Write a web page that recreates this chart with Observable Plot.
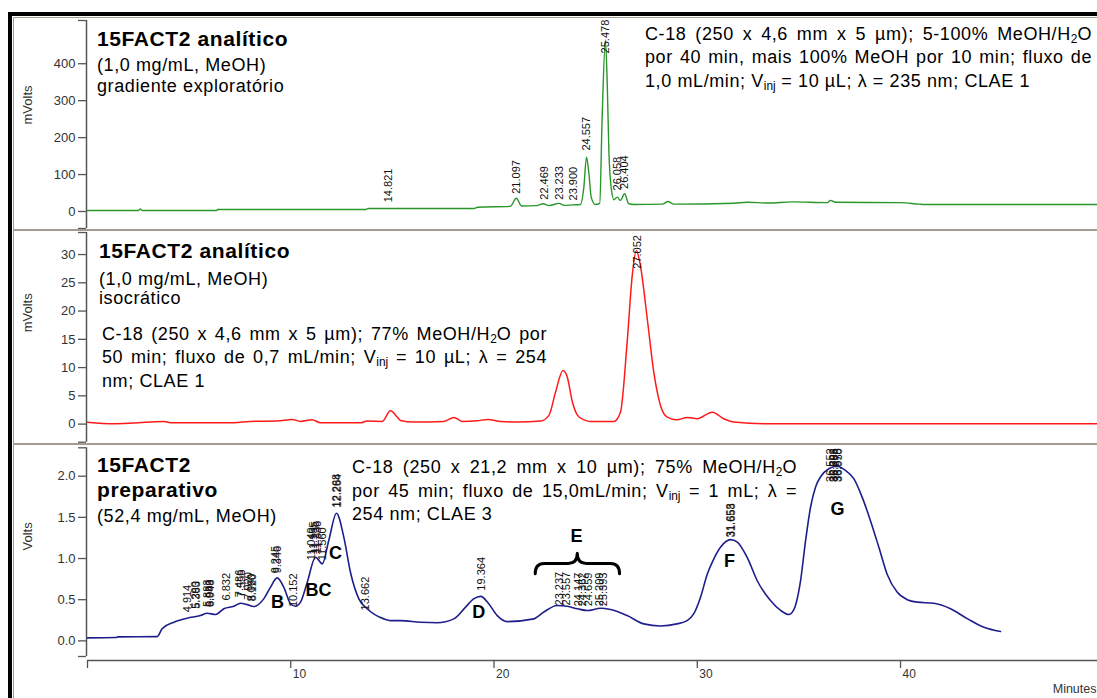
<!DOCTYPE html>
<html><head><meta charset="utf-8">
<script src="https://cdn.jsdelivr.net/npm/d3@7"></script>
<script src="https://cdn.jsdelivr.net/npm/@observablehq/plot@0.6"></script>
<style>
html,body{margin:0;padding:0;background:#fff;}
#page{position:relative;width:1097px;height:698px;overflow:hidden;background:#fff;font-family:"Liberation Sans",Arial,Helvetica,sans-serif;color:#000;}
.panel{position:absolute;left:0;}
.t{position:absolute;white-space:nowrap;line-height:1;letter-spacing:0.6px;}
.b{font-weight:bold;font-size:21px;}
.n{font-size:18px;}
.j{position:absolute;font-size:18px;line-height:1;text-align:justify;text-align-last:justify;letter-spacing:0.6px;}
.l{position:absolute;font-size:18px;line-height:1;white-space:nowrap;letter-spacing:0.6px;}
sub{font-size:0.66em;vertical-align:-0.28em;line-height:0;letter-spacing:0;}
.bar{position:absolute;z-index:5;}
</style></head>
<body>
<div id="page">
  <div class="bar" style="left:8px;top:12px;width:4px;height:686px;background:#000"></div>
  <div class="bar" style="left:8px;top:12px;width:1089px;height:4px;background:#000"></div>
  <div class="bar" style="left:13px;top:17px;width:1px;height:681px;background:#a39d8f"></div>
  <div class="bar" style="left:13px;top:17px;width:1084px;height:1px;background:#a39d8f"></div>
  <div class="bar" style="left:13px;top:229px;width:1084px;height:2px;background:#a39d8f"></div>
  <div class="bar" style="left:13px;top:443px;width:1084px;height:2px;background:#a39d8f"></div>

  <div id="p1" class="panel" style="top:17px"></div>
  <div id="p2" class="panel" style="top:230px"></div>
  <div id="p3" class="panel" style="top:445px"></div>

  <!-- panel 1 texts -->
  <div class="t b" style="left:97px;top:28.2px">15FACT2 analítico</div>
  <div class="t n" style="left:97px;top:56.3px">(1,0 mg/mL, MeOH)</div>
  <div class="t n" style="left:97px;top:76.6px">gradiente exploratório</div>
  <div class="j" style="left:645px;top:24.8px;width:447px">C-18 (250 x 4,6 mm x 5 µm); 5-100% MeOH/H<sub>2</sub>O</div>
  <div class="j" style="left:645px;top:48.1px;width:447px">por 40 min, mais 100% MeOH por 10 min; fluxo de</div>
  <div class="l" style="left:645px;top:71.5px">1,0 mL/min; V<sub>inj</sub> = 10 µL; λ = 235 nm; CLAE 1</div>

  <!-- panel 2 texts -->
  <div class="t b" style="left:99px;top:239.5px">15FACT2 analítico</div>
  <div class="t n" style="left:99px;top:269.8px">(1,0 mg/mL, MeOH)</div>
  <div class="t n" style="left:99px;top:289.0px">isocrático</div>
  <div class="j" style="left:102px;top:324.8px;width:445px">C-18 (250 x 4,6 mm x 5 µm); 77% MeOH/H<sub>2</sub>O por</div>
  <div class="j" style="left:102px;top:348.1px;width:445px">50 min; fluxo de 0,7 mL/min; V<sub>inj</sub> = 10 µL; λ = 254</div>
  <div class="l" style="left:102px;top:371.5px">nm; CLAE 1</div>

  <!-- panel 3 texts -->
  <div class="t b" style="left:97px;top:453.9px">15FACT2</div>
  <div class="t b" style="left:97px;top:478.9px">preparativo</div>
  <div class="t n" style="left:97px;top:506.5px">(52,4 mg/mL, MeOH)</div>
  <div class="j" style="left:352px;top:458.1px;width:445px">C-18 (250 x 21,2 mm x 10 µm); 75% MeOH/H<sub>2</sub>O</div>
  <div class="j" style="left:352px;top:481.5px;width:445px">por 45 min; fluxo de 15,0mL/min; V<sub>inj</sub> = 1 mL; λ =</div>
  <div class="l" style="left:352px;top:504.8px">254 nm; CLAE 3</div>
</div>
<script>
// ---------- data ----------
const xDomain = [0, 49.69];
const xTicks = [0, 10, 20, 30, 40];
const xTickLabels = [10, 20, 30, 40];

// Panel 1: analytical, exploratory gradient (mV)
const gradT  = [0, 2.5, 2.6, 2.7, 6.35, 6.4, 13.7, 13.8, 19.0, 19.2, 20.8, 21.1, 21.35, 22.1, 22.42, 22.7, 23.2, 23.45, 23.9, 24.25, 24.42, 24.55, 24.67, 24.78, 24.99, 25.2, 25.32, 25.48, 25.57, 25.65, 25.77, 25.9, 26.06, 26.22, 26.42, 26.63, 26.9, 28.3, 28.55, 28.85, 31.8, 32.46, 33.5, 34.67, 36.4, 36.56, 36.8, 40.0, 40.9, 41.2, 49.69];
const gradMv = [2.7, 2.7, 7, 2.7, 2.7, 5.4, 5.4, 8, 8, 11.7, 14, 36, 15, 16, 21, 16, 22, 16.5, 18, 19, 66, 147, 102, 39, 19, 22, 255, 465, 346, 165, 61, 32, 39, 30, 48, 21, 19, 20, 27, 20, 22.5, 25, 23, 26, 24, 30, 25, 24, 20, 19, 19];
const gradYTicks = [0, 100, 200, 300, 400];
const gradYDomain = [-46, 517];
const gradPeakT   = [14.821, 21.097, 22.469, 23.233, 23.900, 24.557, 25.478, 26.058, 26.404];
const gradPeakTop = [25, 48, 32, 32, 30, 165, 428, 57, 61];

// Panel 2: analytical, isocratic (mV)
const isoT  = [0, 1.3, 2.27, 3.76, 4.08, 7.2, 8.0, 9.33, 10.07, 10.48, 11.05, 11.46, 13.43, 13.76, 14.5, 14.9, 15.24, 15.4, 16.05, 17.53, 18.03, 18.44, 19.17, 19.7, 20.32, 21.14, 22.29, 22.7, 23.03, 23.39, 23.6, 23.85, 24.17, 24.75, 25.9, 26.22, 26.55, 26.8, 27.0, 27.2, 27.54, 27.86, 28.19, 28.52, 29.0, 29.5, 30.0, 30.74, 31.3, 31.8, 33.44, 49.69];
const isoMv = [0.35, 0.07, 0.2, 0.48, 0.24, 0.24, 0.48, 0.53, 0.83, 0.48, 0.77, 0.24, 0.24, 0.53, 0.48, 2.36, 1.25, 0.65, 0.36, 0.48, 1.18, 0.48, 0.6, 0.83, 0.48, 0.36, 0.53, 1.54, 5.7, 9.5, 8.4, 4.0, 1.3, 0.48, 0.48, 2.1, 14.5, 26.3, 30.7, 28.1, 18.6, 9.2, 3.3, 1.24, 0.77, 1.18, 0.95, 2.1, 0.95, 0.36, 0.07, 0.07];
const isoYTicks = [0, 5, 10, 15, 20, 25, 30];
const isoYDomain = [-3.2, 33.9];
const isoPeakT   = [27.052];
const isoPeakTop = [27.5];

// Panel 3: preparative (V)
const prepT = [0, 1.4, 1.5, 3.43, 3.67, 4.25, 4.9, 5.56, 5.89, 6.3, 6.71, 7.2, 7.53, 7.86, 8.18, 8.67, 9.0, 9.33, 9.66, 9.99, 10.23, 10.48, 10.81, 11.22, 11.55, 11.87, 12.25, 12.61, 12.94, 13.35, 13.76, 14.58, 14.9, 15.4, 16.38, 17.2, 18.02, 18.6, 19.0, 19.35, 19.74, 20.16, 20.65, 21.96, 22.45, 23.11, 23.6, 24.1, 24.59, 25.24, 25.73, 26.55, 27.37, 28.19, 29.0, 29.5, 29.83, 30.16, 30.49, 30.82, 31.15, 31.64, 31.97, 32.46, 32.95, 33.6, 34.1, 34.5, 34.75, 35.08, 35.33, 35.57, 35.82, 36.06, 36.47, 36.88, 37.29, 37.7, 38.12, 38.52, 38.93, 39.34, 39.84, 40.33, 40.82, 41.64, 42.46, 43.28, 44.1, 44.92];
const prepV = [0.036, 0.04, 0.048, 0.052, 0.146, 0.226, 0.275, 0.307, 0.335, 0.32, 0.39, 0.42, 0.457, 0.44, 0.417, 0.51, 0.65, 0.765, 0.65, 0.45, 0.42, 0.47, 0.71, 1.016, 0.935, 1.22, 1.55, 1.26, 0.83, 0.51, 0.39, 0.267, 0.246, 0.246, 0.226, 0.22, 0.267, 0.41, 0.51, 0.54, 0.45, 0.307, 0.234, 0.267, 0.35, 0.43, 0.42, 0.39, 0.368, 0.396, 0.38, 0.307, 0.206, 0.18, 0.206, 0.246, 0.33, 0.53, 0.81, 1.0, 1.14, 1.23, 1.2, 1.01, 0.73, 0.49, 0.37, 0.32, 0.38, 0.73, 1.22, 1.62, 1.87, 1.99, 2.09, 2.12, 2.07, 1.97, 1.74, 1.46, 1.14, 0.81, 0.59, 0.5, 0.47, 0.457, 0.39, 0.27, 0.165, 0.113];
const prepYTicks = [0, 0.5, 1.0, 1.5, 2.0];
const prepYDomain = [-0.19, 2.345];
const prepPeakT   = [4.914, 5.290, 5.363, 5.883, 5.983, 6.048, 6.832, 7.486, 7.556, 7.920, 8.060, 8.120, 9.245, 9.346, 10.152, 11.040, 11.135, 11.235, 11.336, 11.560, 12.268, 12.284, 13.662, 19.364, 23.237, 23.557, 24.147, 24.362, 24.659, 25.209, 25.393, 31.653, 31.658, 36.552, 36.693, 36.768, 36.878, 36.950];
const prepPeakTop = [0.347, 0.39, 0.39, 0.41, 0.41, 0.41, 0.49, 0.53, 0.53, 0.50, 0.48, 0.48, 0.82, 0.82, 0.41, 0.98, 1.05, 1.06, 1.06, 0.98, 1.62, 1.62, 0.37, 0.61, 0.43, 0.43, 0.42, 0.42, 0.42, 0.42, 0.42, 1.26, 1.26, 1.93, 1.93, 1.93, 1.93, 1.93];
const fractionNames = ["B", "BC", "C", "D", "E", "F", "G"];
const fractionT     = [9.35, 11.36, 12.2, 19.25, 24.06, 31.59, 36.9];
const fractionV     = [0.47, 0.617, 1.064, 0.347, 1.273, 0.97, 1.60];
const braceE = {t0: 22.05, t1: 26.2, tm: 24.12, vEnd: 0.81, vBar: 0.935, vTip: 1.057};

// ---------- styling ----------
const FONT = '"Liberation Sans", Arial, Helvetica, sans-serif';
const AXIS = "#555";
const LABEL = "#333";
const fmt3 = d3.format(".3f");

const series = (T, V) => T.map((t, i) => ({t, v: V[i]}));
const peaks = (T, V) => T.map((t, i) => ({t, v: V[i], label: fmt3(t)}));

function yAxisMarks(dom, ticks, fmt, label, labelDy) {
  return [
    Plot.ruleX([{x: 0, y1: dom[0], y2: dom[1]}], {x: "x", y1: "y1", y2: "y2", dx: -1, stroke: AXIS, strokeWidth: 1.5}),
    Plot.axisY({ticks: [dom[0], ...ticks, dom[1]], tickSize: 8, tickPadding: 3, dx: -1,
      tickFormat: d => ticks.includes(d) ? fmt(d) : "", fontSize: 13, fill: LABEL, stroke: AXIS, strokeWidth: 1.3, label: null}),
    Plot.text([label], {frameAnchor: "left", rotate: -90, dx: -60, dy: labelDy, fontSize: 13, fill: LABEL})
  ];
}
const peakText = (data) => Plot.text(data, {x: "t", y: "v", text: "label", rotate: -90, textAnchor: "start", fontSize: 11, fill: "#111"});
const baseStyle = {background: "transparent", fontFamily: FONT, overflow: "visible"};

// Panel 1
const p1 = Plot.plot({
  width: 1097, height: 212, marginLeft: 87, marginRight: 0, marginTop: 3, marginBottom: 1,
  x: {domain: xDomain, axis: null},
  y: {domain: gradYDomain},
  style: baseStyle,
  marks: [
    ...yAxisMarks(gradYDomain, gradYTicks, d3.format("d"), "mVolts", 0),
    Plot.line(series(gradT, gradMv), {x: "t", y: "v", stroke: "#2a962a", strokeWidth: 1.4, curve: "monotone-x"}),
    peakText(peaks(gradPeakT, gradPeakTop))
  ]
});
document.getElementById("p1").append(p1);

// Panel 2
const p2 = Plot.plot({
  width: 1097, height: 214, marginLeft: 87, marginRight: 0, marginTop: 2, marginBottom: 2.3,
  x: {domain: xDomain, axis: null},
  y: {domain: isoYDomain},
  style: baseStyle,
  marks: [
    ...yAxisMarks(isoYDomain, isoYTicks, d3.format("d"), "mVolts", -5),
    Plot.line(series(isoT, isoMv), {x: "t", y: "v", stroke: "#ff1a1a", strokeWidth: 1.5, curve: "monotone-x"}),
    peakText(peaks(isoPeakT, isoPeakTop))
  ]
});
document.getElementById("p2").append(p2);

// Panel 3
const y3Range = [211, 2.3];
const frameBottom3 = 215;
const xAxisLevel = prepYDomain[0] - (frameBottom3 - y3Range[0]) / (y3Range[0] - y3Range[1]) * (prepYDomain[1] - prepYDomain[0]);
const p3 = Plot.plot({
  width: 1097, height: 253, marginLeft: 87, marginRight: 0, marginTop: 2, marginBottom: 38,
  x: {domain: xDomain},
  y: {domain: prepYDomain, range: y3Range},
  style: baseStyle,
  marks: [
    ...yAxisMarks(prepYDomain, prepYTicks, d3.format(".1f"), "Volts", -3.5),
    Plot.ruleY([{y: xAxisLevel, x1: xDomain[0], x2: xDomain[1]}], {y: "y", x1: "x1", x2: "x2", stroke: AXIS, strokeWidth: 1.5}),
    Plot.axisX({ticks: xTicks, tickSize: 8, fill: "none", stroke: AXIS, strokeWidth: 1.3, label: null}),
    Plot.axisX({ticks: xTickLabels, tickSize: 8, tickPadding: 1, stroke: "none", textAnchor: "start", dx: 2, fontSize: 12, fill: LABEL, label: null}),
    Plot.text(["Minutes"], {frameAnchor: "bottom-right", textAnchor: "end", lineAnchor: "bottom", dy: 32, dx: -1, fontSize: 12.5, fill: LABEL}),
    Plot.line(series(prepT, prepV), {x: "t", y: "v", stroke: "#1e1e8c", strokeWidth: 1.6, curve: "monotone-x"}),
    peakText(peaks(prepPeakT, prepPeakTop)),
    Plot.text(fractionNames.map((n, i) => ({n, t: fractionT[i], v: fractionV[i]})), {x: "t", y: "v", text: "n", fontSize: 18, fontWeight: "bold", fill: "#000"})
  ]
});
document.getElementById("p3").append(p3);

// Curly brace over fraction E, drawn through the plot's own scales
{
  const sx = p3.scale("x"), sy = p3.scale("y");
  const X = t => sx.apply(t), Y = v => sy.apply(v);
  const x0 = X(braceE.t0), x1 = X(braceE.t1), xm = X(braceE.tm);
  const yE = Y(braceE.vEnd), yH = Y(braceE.vBar), yT = Y(braceE.vTip);
  const r = 9;
  const path = d3.path();
  path.moveTo(x0, yE);
  path.quadraticCurveTo(x0, yH, x0 + r, yH);
  path.lineTo(xm - r, yH);
  path.quadraticCurveTo(xm, yH, xm, yT);
  path.quadraticCurveTo(xm, yH, xm + r, yH);
  path.lineTo(x1 - r, yH);
  path.quadraticCurveTo(x1, yH, x1, yE);
  d3.select(p3).append("path").attr("d", path.toString()).attr("fill", "none")
    .attr("stroke", "#000").attr("stroke-width", 3).attr("stroke-linecap", "round").attr("stroke-linejoin", "round");
}
</script>
</body></html>
